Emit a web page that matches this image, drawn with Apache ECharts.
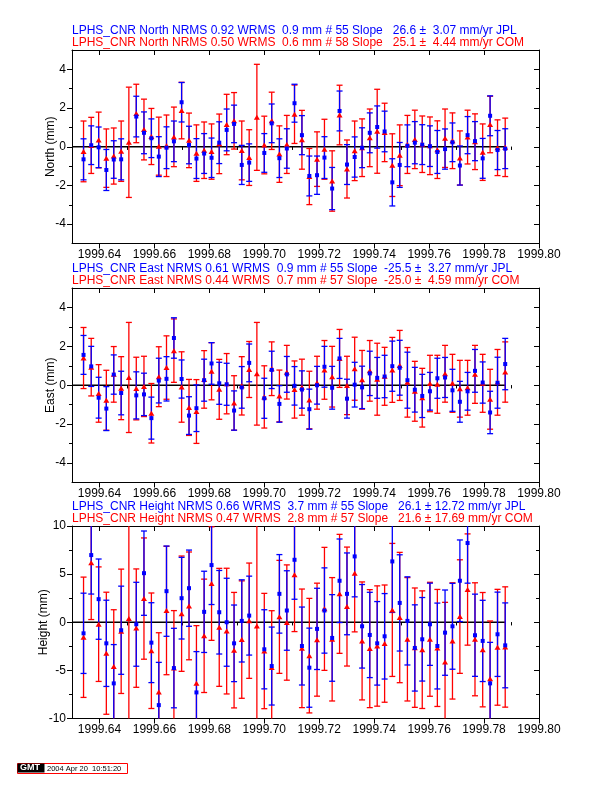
<!DOCTYPE html>
<html>
<head>
<meta charset="utf-8">
<script src="https://cdn.jsdelivr.net/npm/echarts@6.0.0/dist/echarts.min.js"></script>
<style>
html,body{margin:0;padding:0;background:#fff;}
#chart{width:612px;height:792px;}
</style>
</head>
<body>
<div id="chart"></div>
<script>
// ---------- data ----------
const days = [1999.6342, 1999.6370, 1999.6397, 1999.6425, 1999.6452, 1999.6479, 1999.6507, 1999.6534, 1999.6562, 1999.6589,
  1999.6616, 1999.6644, 1999.6671, 1999.6699, 1999.6726, 1999.6753, 1999.6781, 1999.6808, 1999.6836, 1999.6863,
  1999.6890, 1999.6918, 1999.6945, 1999.6973, 1999.7000, 1999.7027, 1999.7055, 1999.7082, 1999.7110, 1999.7137,
  1999.7164, 1999.7192, 1999.7219, 1999.7247, 1999.7274, 1999.7301, 1999.7329, 1999.7356, 1999.7384, 1999.7411,
  1999.7438, 1999.7466, 1999.7493, 1999.7521, 1999.7548, 1999.7575, 1999.7603, 1999.7630, 1999.7658, 1999.7685,
  1999.7712, 1999.7740, 1999.7767, 1999.7795, 1999.7822, 1999.7849, 1999.7877];

const zeroLineX = [1999.630, 1999.7877];

const xMajorTicks = [1999.64, 1999.66, 1999.68, 1999.70, 1999.72, 1999.74, 1999.76, 1999.78, 1999.80];
const xMinorTicks = [1999.63, 1999.65, 1999.67, 1999.69, 1999.71, 1999.73, 1999.75, 1999.77, 1999.79];

const neYMajor = [-4, -2, 0, 2, 4];
const neYMinor = [-3, -1, 1, 3];
const hYMajor = [-10, -5, 0, 5, 10];
const hYMinor = [-7.5, -2.5, 2.5, 7.5];

// North
const northCom = [-0.24, 0.07, 0.35, -0.59, -0.48, -0.23, 0.23, 1.72, 0.89, 0.53,
  0.03, 0.05, 0.51, 1.87, 0.33, -0.33, -0.18, -0.25, 0.15, 1.15,
  1.34, -0.19, -0.56, 1.52, 0.09, 1.34, -0.38, 0.12, 1.68, 0.36,
  -1.54, -0.64, -0.13, -1.77, 1.64, -1.15, -0.21, -0.05, 0.46, 0.80,
  0.74, -0.95, -0.44, 0.12, 0.38, 0.13, 0.05, -0.15, 0.44, 0.31,
  -0.58, 0.50, 0.26, -0.28, 1.15, -0.05, -0.03];
const northComErr = [1.57, 1.45, 1.44, 1.51, 1.45, 1.56, 2.85, 1.51, 1.57, 1.45,
  1.50, 1.59, 1.54, 1.46, 1.41, 1.46, 1.46, 1.43, 1.54, 1.56,
  1.46, 1.52, 1.44, 2.74, 1.49, 1.48, 1.46, 1.50, 1.51, 1.52,
  1.45, 1.41, 1.55, 1.56, 1.54, 1.50, 1.54, 1.49, 1.49, 2.17,
  1.51, 1.62, 1.57, 1.50, 1.51, 1.46, 1.49, 1.49, 1.51, 1.44,
  1.40, 1.39, 1.44, 1.46, 1.46, 1.44, 1.51];
const northJpl = [-0.65, 0.08, -0.03, -1.20, -0.66, -0.65, null, 1.56, 0.72, 0.44,
  -0.51, -0.05, 0.28, 2.30, 0.09, -0.61, -0.35, -0.57, 0.21, 0.87,
  1.18, -0.94, -0.82, null, -0.32, 1.21, -0.59, -0.09, 2.25, 0.60,
  -1.51, -1.47, -0.56, -2.16, 1.85, -0.92, -0.53, -0.05, 0.72, 1.02,
  0.79, -1.84, -0.94, 0.05, 0.21, 0.11, 0.03, -0.27, -0.12, 0.23,
  -0.97, 0.60, 0.29, -0.60, 1.60, -0.17, -0.10];
const northJplErr = [1.06, 1.00, 1.05, 1.06, 0.97, 1.06, null, 1.05, 1.08, 1.00,
  1.03, 1.08, 1.05, 1.02, 0.97, 1.03, 1.03, 1.02, 1.08, 1.08,
  0.97, 1.01, 0.97, null, 1.00, 1.00, 1.00, 1.02, 0.98, 1.01,
  1.03, 0.99, 1.08, 1.09, 1.03, 1.03, 1.04, 1.03, 1.03, 1.09,
  1.05, 1.22, 1.16, 1.08, 1.09, 1.03, 1.05, 1.11, 1.04, 1.00,
  1.01, 0.96, 1.01, 1.03, 1.03, 1.01, 1.03];

// East
const eastCom = [1.40, 0.93, -0.42, -0.77, 0.56, -0.15, 0.40, -0.17, -0.06, -1.44,
  0.44, 0.91, 1.78, -0.09, -1.14, -1.35, 0.30, 0.72, -0.21, 0.08,
  -0.91, -0.03, 0.81, 0.59, -0.60, 0.85, -0.55, 0.67, -0.22, -0.10,
  -0.76, 0.13, 0.79, 0.44, 1.38, -0.01, 0.85, 0.28, 0.74, 0.31,
  0.46, 0.79, 1.02, 0.15, -0.31, -0.64, 0.09, 0.05, 0.59, 0.10,
  -0.18, -0.13, 0.56, 0.10, -0.72, 0.15, 0.68];
const eastComErr = [1.57, 1.48, 1.48, 1.54, 1.43, 1.62, 2.83, 1.61, 1.55, 1.53,
  1.54, 1.63, 1.63, 1.81, 1.44, 1.64, 1.48, 1.47, 1.54, 1.55,
  1.40, 1.50, 1.44, 2.64, 1.60, 1.38, 1.33, 1.38, 1.47, 1.44,
  1.48, 1.36, 1.51, 1.56, 1.49, 1.50, 1.62, 1.51, 1.56, 1.85,
  1.49, 1.67, 1.80, 1.79, 1.54, 1.51, 1.45, 1.49, 1.46, 1.49,
  1.46, 1.41, 1.49, 1.49, 1.54, 1.69, 1.55];
const eastJpl = [1.56, 0.97, -0.64, -1.20, 0.55, -0.40, null, -0.52, -0.47, -1.69,
  0.24, 0.33, 2.43, 0.32, -1.56, -1.18, 0.26, 1.12, 0.10, 0.05,
  -1.30, -0.11, 1.15, null, -0.67, 0.79, -0.96, 0.56, -0.03, -0.22,
  -1.23, 0.00, 0.95, -0.13, 1.38, -0.69, 0.03, -0.11, 0.61, 0.38,
  0.45, 0.98, 0.90, 0.26, -0.23, -0.55, -0.31, 0.36, 0.40, -0.26,
  -0.85, -0.31, 0.74, 0.14, -1.40, 0.13, 1.09];
const eastJplErr = [1.00, 1.03, 1.05, 1.13, 1.01, 1.12, null, 1.21, 1.09, 1.08,
  1.15, 1.14, 1.04, 0.98, 0.97, 1.20, 1.08, 1.07, 1.08, 1.08,
  1.01, 1.07, 0.97, null, 1.03, 0.96, 0.94, 0.92, 0.99, 0.96,
  1.03, 0.97, 1.05, 1.10, 1.03, 1.00, 1.15, 1.09, 1.14, 1.05,
  1.09, 1.29, 1.41, 1.44, 1.15, 1.11, 0.97, 1.03, 1.03, 1.08,
  1.05, 0.97, 1.10, 1.06, 1.09, 1.31, 1.32];

// Height
const heightCom = [-1.56, 6.18, -0.20, -3.22, -4.60, -0.94, 0.38, -0.61, 2.46, -2.96,
  -7.24, 1.22, -4.76, 0.89, 1.70, -6.35, -1.41, 4.02, -0.53, -0.92,
  -2.90, -1.80, 0.16, -0.40, -2.99, -4.70, 0.56, -0.03, 4.93, -2.71,
  -3.47, -1.81, 1.39, -1.77, 2.95, 1.63, 5.10, -1.94, -2.74, -2.47,
  -2.22, 1.28, 0.49, -1.77, -2.64, -2.85, -1.77, -2.67, -4.13, -1.94,
  0.59, 3.40, -1.77, -2.85, -5.87, -2.60, -2.57];
const heightComErr = [6.25, 5.90, 5.95, 6.34, 5.90, 6.46, 12.0, 6.15, 6.30, 6.00,
  6.15, 6.67, 5.97, 5.99, 5.60, 6.00, 5.89, 5.90, 6.13, 6.53,
  6.00, 6.10, 5.99, 12.0, 5.99, 5.90, 5.87, 5.99, 5.90, 6.16,
  5.95, 5.87, 6.39, 6.41, 6.18, 6.18, 6.10, 6.13, 6.13, 6.25,
  6.09, 6.91, 6.77, 6.41, 6.20, 6.11, 5.92, 6.08, 6.20, 6.04,
  5.90, 5.78, 5.87, 5.94, 6.00, 6.02, 6.25];
const heightJpl = [-1.15, 6.98, 2.40, -2.19, -6.35, -0.83, null, -0.21, 5.10, -2.12,
  -8.61, 3.23, -4.76, 2.50, 3.54, -7.29, 1.08, 5.94, 1.04, 0.00,
  -2.19, 0.14, 0.69, null, -2.81, -4.55, 2.95, 1.22, 6.49, -2.47,
  -4.72, -0.69, 1.22, -1.63, 4.31, 2.95, 6.84, -0.42, -1.32, -2.19,
  -1.46, 6.32, 2.01, 0.14, -2.67, -1.77, -0.21, -2.47, -1.08, -0.42,
  4.31, 8.23, -1.35, -1.94, -6.35, -1.25, -2.40];
const heightJplErr = [4.17, 4.05, 4.17, 4.48, 4.03, 4.58, null, 4.36, 4.38, 4.15,
  4.44, 4.69, 4.13, 4.24, 3.96, 4.24, 4.22, 4.10, 4.34, 4.57,
  3.98, 4.27, 4.10, null, 4.11, 4.05, 4.08, 4.13, 4.10, 4.05,
  4.11, 4.22, 4.43, 4.50, 4.34, 4.25, 4.20, 4.34, 4.43, 4.34,
  4.44, 5.30, 5.00, 4.58, 4.48, 4.34, 4.27, 4.46, 4.43, 4.46,
  4.24, 4.17, 4.27, 4.22, 4.26, 4.38, 4.41];

const titlesJpl = [
  'LPHS_CNR North NRMS 0.92 WRMS  0.9 mm # 55 Slope   26.6 \u00b1  3.07 mm/yr JPL',
  'LPHS_CNR East NRMS 0.61 WRMS  0.9 mm # 55 Slope  -25.5 \u00b1  3.27 mm/yr JPL',
  'LPHS_CNR Height NRMS 0.66 WRMS  3.7 mm # 55 Slope   26.1 \u00b1 12.72 mm/yr JPL'
];
const titlesCom = [
  'LPHS_CNR North NRMS 0.50 WRMS  0.6 mm # 58 Slope   25.1 \u00b1  4.44 mm/yr COM',
  'LPHS_CNR East NRMS 0.44 WRMS  0.7 mm # 57 Slope  -25.0 \u00b1  4.59 mm/yr COM',
  'LPHS_CNR Height NRMS 0.47 WRMS  2.8 mm # 57 Slope   21.6 \u00b1 17.69 mm/yr COM'
];
const yNames = ['North (mm)', 'East (mm)', 'Height (mm)'];
const stamp = '2004 Apr 20  10:51:20';

// ---------- layout ----------
const FONT = 'Liberation Sans, Arial, Helvetica, sans-serif';
const BLUE = '#0000ff', RED = '#ff0000';
const panels = [
  {top: 50, height: 193.5, min: -5, max: 5, major: neYMajor, minor: neYMinor, nameGap: 15,
   com: northCom, comErr: northComErr, jpl: northJpl, jplErr: northJplErr},
  {top: 288, height: 194.5, min: -5, max: 5, major: neYMajor, minor: neYMinor, nameGap: 15,
   com: eastCom, comErr: eastComErr, jpl: eastJpl, jplErr: eastJplErr},
  {top: 526, height: 192.5, min: -10, max: 10, major: hYMajor, minor: hYMinor, nameGap: 22,
   com: heightCom, comErr: heightComErr, jpl: heightJpl, jplErr: heightJplErr}
];

const grids = [], xAxes = [], yAxes = [], series = [], graphics = [];

function errRender(color) {
  return function (params, api) {
    const x = api.value(0), v = api.value(1), e = api.value(2);
    const cs = params.coordSys;
    const px = api.coord([x, v])[0];
    let top = api.coord([x, v + e])[1];
    let bot = api.coord([x, v - e])[1];
    const yTop = cs.y, yBot = cs.y + cs.height;
    const capTop = top >= yTop - 0.01, capBot = bot <= yBot + 0.01;
    top = Math.max(top, yTop); bot = Math.min(bot, yBot);
    const st = {stroke: color, lineWidth: 1.3};
    const ch = [{type: 'line', shape: {x1: px, y1: top, x2: px, y2: bot}, style: st}];
    if (capTop) ch.push({type: 'line', shape: {x1: px - 3, y1: top, x2: px + 3, y2: top}, style: st});
    if (capBot) ch.push({type: 'line', shape: {x1: px - 3, y1: bot, x2: px + 3, y2: bot}, style: st});
    return {type: 'group', children: ch};
  };
}

panels.forEach(function (p, g) {
  grids.push({left: 72, right: 73, top: p.top, height: p.height});
  const xBase = {type: 'value', gridIndex: g, min: 1999.63, max: 1999.80, interval: 0.01,
    splitLine: {show: false}, axisLine: {show: false}, axisLabel: {show: false}};
  const xi = xAxes.length;
  xAxes.push(Object.assign({}, xBase, {position: 'bottom',
    axisLine: {show: true, onZero: false, lineStyle: {color: '#000', width: 1}},
    axisTick: {show: true, inside: false, length: 5, customValues: xMajorTicks, lineStyle: {color: '#000', width: 1}},
    axisLabel: {show: true, customValues: xMajorTicks, margin: 5, color: '#000', fontSize: 12, fontFamily: FONT,
      formatter: function (v) { return v.toFixed(2); }}}));
  xAxes.push(Object.assign({}, xBase, {position: 'bottom',
    axisTick: {show: true, inside: false, length: 3, customValues: xMinorTicks, lineStyle: {color: '#000', width: 1}}}));
  xAxes.push(Object.assign({}, xBase, {position: 'top',
    axisLine: {show: true, onZero: false, lineStyle: {color: '#000', width: 1}},
    axisTick: {show: true, inside: true, length: 5, customValues: xMajorTicks, lineStyle: {color: '#000', width: 1}}}));
  xAxes.push(Object.assign({}, xBase, {position: 'top',
    axisTick: {show: true, inside: true, length: 3, customValues: xMinorTicks, lineStyle: {color: '#000', width: 1}}}));

  const yBase = {type: 'value', gridIndex: g, min: p.min, max: p.max, interval: p.max === 10 ? 2.5 : 1,
    splitLine: {show: false}, axisLine: {show: false}, axisLabel: {show: false}};
  const yi = yAxes.length;
  yAxes.push(Object.assign({}, yBase, {position: 'left',
    name: yNames[g], nameLocation: 'middle', nameGap: p.nameGap, nameMoveOverlap: false,
    nameTextStyle: {color: '#000', fontSize: 12, fontFamily: FONT},
    axisLine: {show: true, onZero: false, lineStyle: {color: '#000', width: 1}},
    axisTick: {show: true, inside: false, length: 5, customValues: p.major, lineStyle: {color: '#000', width: 1}},
    axisLabel: {show: true, customValues: p.major, margin: 6, color: '#000', fontSize: 12, fontFamily: FONT}}));
  yAxes.push(Object.assign({}, yBase, {position: 'left',
    axisTick: {show: true, inside: false, length: 3, customValues: p.minor, lineStyle: {color: '#000', width: 1}}}));
  yAxes.push(Object.assign({}, yBase, {position: 'right',
    axisLine: {show: true, onZero: false, lineStyle: {color: '#000', width: 1}},
    axisTick: {show: true, inside: true, length: 5, customValues: p.major, lineStyle: {color: '#000', width: 1}}}));
  yAxes.push(Object.assign({}, yBase, {position: 'right',
    axisTick: {show: true, inside: true, length: 3, customValues: p.minor, lineStyle: {color: '#000', width: 1}}}));

  const comBars = [], jplBars = [], comPts = [], jplPts = [];
  days.forEach(function (d, i) {
    if (p.com[i] !== null) { comBars.push([d, p.com[i], p.comErr[i]]); comPts.push([d, p.com[i]]); }
    if (p.jpl[i] !== null) { jplBars.push([d, p.jpl[i], p.jplErr[i]]); jplPts.push([d, p.jpl[i]]); }
  });

  series.push({type: 'line', xAxisIndex: xi, yAxisIndex: yi, data: [[zeroLineX[0], 0], [zeroLineX[1], 0]],
    symbol: 'none', lineStyle: {color: '#000', width: 1.3}, silent: true, z: 1});
  series.push({type: 'custom', xAxisIndex: xi, yAxisIndex: yi, data: comBars, renderItem: errRender(RED),
    encode: {x: 0, y: 1}, z: 2, silent: true});
  series.push({type: 'custom', xAxisIndex: xi, yAxisIndex: yi, data: jplBars, renderItem: errRender(BLUE),
    encode: {x: 0, y: 1}, z: 3, silent: true});
  series.push({type: 'scatter', xAxisIndex: xi, yAxisIndex: yi, data: comPts, symbol: 'triangle',
    symbolSize: [6, 5], itemStyle: {color: RED, opacity: 1}, z: 4, silent: true, clip: true});
  series.push({type: 'scatter', xAxisIndex: xi, yAxisIndex: yi, data: jplPts, symbol: 'rect',
    symbolSize: 4, itemStyle: {color: BLUE, opacity: 1}, z: 5, silent: true, clip: true});

  graphics.push({type: 'text', left: 72, top: p.top - 25, style: {text: titlesJpl[g], fill: BLUE,
    font: '12px ' + FONT}});
  graphics.push({type: 'text', left: 72, top: p.top - 13, style: {text: titlesCom[g], fill: RED,
    font: '12px ' + FONT}});
});

// GMT stamp
graphics.push({type: 'rect', left: 17, top: 763, shape: {width: 110, height: 10}, style: {fill: '#fff', stroke: RED, lineWidth: 1}});
graphics.push({type: 'rect', left: 17.5, top: 763.5, shape: {width: 27, height: 9}, style: {fill: '#000'}});
graphics.push({type: 'text', left: 20, top: 763.5, style: {text: 'GMT', fill: '#fff', font: 'bold 9px ' + FONT}});
graphics.push({type: 'text', left: 47, top: 764.5, style: {text: stamp, fill: '#000', font: '7.5px ' + FONT}});

const chart = echarts.init(document.getElementById('chart'), null, {renderer: 'canvas'});
chart.setOption({
  backgroundColor: '#fff',
  animation: false,
  grid: grids,
  xAxis: xAxes,
  yAxis: yAxes,
  series: series,
  graphic: graphics
});
</script>
</body>
</html>
